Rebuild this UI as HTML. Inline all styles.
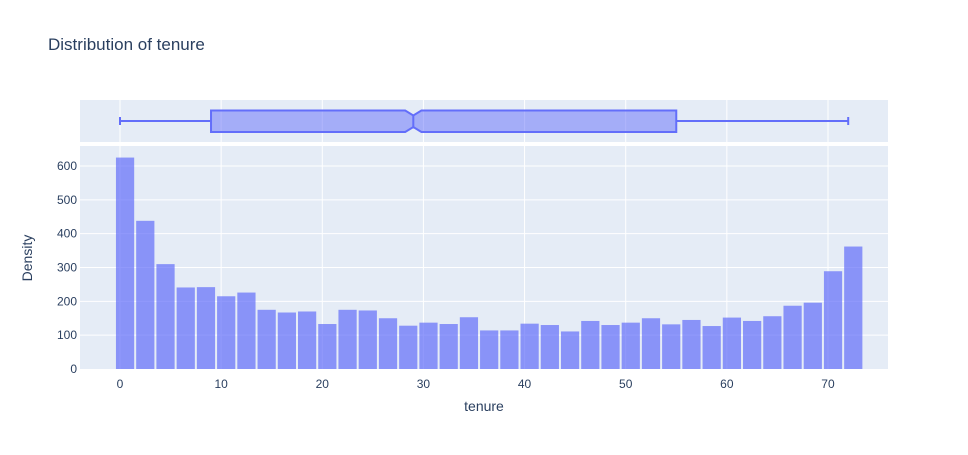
<!DOCTYPE html>
<html><head><meta charset="utf-8"><style>
body{margin:0;background:#fff;font-family:"Liberation Sans",Arial,sans-serif}
svg text{font-family:"Liberation Sans",Arial,sans-serif;fill:#2a3f5f}
</style></head><body>
<svg id="c" width="968" height="450">
<text x="48" y="50" font-size="17">Distribution of tenure</text>
<rect x="80" y="100" width="808" height="42" fill="#e5ecf6"/>
<rect x="80" y="146" width="808" height="223" fill="#e5ecf6"/>
<g id="grid"></g><g id="bars"></g><g id="box"></g><g id="ticks"></g>
<text x="484" y="411" font-size="14" text-anchor="middle">tenure</text>
<text transform="translate(32,258) rotate(-90)" font-size="14" text-anchor="middle">Density</text>
</svg>
<script>
const binStarts=[-0.5,1.5,3.5,5.5,7.5,9.5,11.5,13.5,15.5,17.5,19.5,21.5,23.5,25.5,27.5,29.5,31.5,33.5,35.5,37.5,39.5,41.5,43.5,45.5,47.5,49.5,51.5,53.5,55.5,57.5,59.5,61.5,63.5,65.5,67.5,69.5,71.5];
const counts=[625,438,310,241,242,215,226,175,167,170,133,175,173,150,128,137,133,153,114,114,134,130,111,142,130,137,150,132,145,127,152,142,156,187,196,289,362];
const binWidth=2;
const xTicks=[0,10,20,30,40,50,60,70];
const yTicks=[0,100,200,300,400,500,600];
const boxStats={min:0,q1:9,median:29,q3:55,max:72,notch:0.8};
const NS="http://www.w3.org/2000/svg";
const X=v=>120+v*10.114, Y=v=>369-v*0.3383;
function mk(tag,attrs,parent){const e=document.createElementNS(NS,tag);for(const k in attrs)e.setAttribute(k,attrs[k]);document.getElementById(parent).appendChild(e);return e;}
xTicks.forEach(t=>{
  let l=mk('line',{x1:X(t),x2:X(t),y1:100,y2:142,stroke:'#fff','stroke-width':1},'grid');
  
  
  let l2=mk('line',{x1:X(t),x2:X(t),y1:146,y2:369,stroke:'#fff','stroke-width':1},'grid');
  
  
  let tx=mk('text',{x:X(t),y:388,'font-size':12,'text-anchor':'middle'},'ticks');tx.textContent=t;
  
  
});
yTicks.forEach(t=>{
  if(t>0){let l=mk('line',{x1:80,x2:888,y1:Y(t),y2:Y(t),stroke:'#fff','stroke-width':1},'grid');
  
  }
  let tx=mk('text',{x:77,y:Y(t)+4,'font-size':12,'text-anchor':'end'},'ticks');tx.textContent=t;
  
  
});
counts.forEach((c,i)=>{
  const x0=X(binStarts[i])+1,x1=X(binStarts[i]+binWidth)-1;
  let r=mk('rect',{x:x0,y:Y(c),width:x1-x0,height:Y(0)-Y(c),fill:'#636efa','fill-opacity':0.7},'bars');
  
  
});
const b=boxStats,yt=110.5,yb=132,yc=121,ni=5;
let w=mk('path',{d:`M${X(b.min)},${yc}H${X(b.q1)}M${X(b.q3)},${yc}H${X(b.max)}M${X(b.min)},${yc-4}V${yc+4}M${X(b.max)},${yc-4}V${yc+4}`,stroke:'#636efa','stroke-width':2,fill:'none'},'box');


const ml=X(b.median-b.notch),mm=X(b.median),mr=X(b.median+b.notch);
let p=mk('path',{d:`M${X(b.q1)},${yt}H${ml}L${mm},${yt+ni}L${mr},${yt}H${X(b.q3)}V${yb}H${mr}L${mm},${yb-ni}L${ml},${yb}H${X(b.q1)}Z`,fill:'rgba(99,110,250,0.5)',stroke:'#636efa','stroke-width':2},'box');


let m=mk('line',{x1:mm,x2:mm,y1:yt+ni,y2:yb-ni,stroke:'#636efa','stroke-width':2},'box');


</script>
</body></html>
